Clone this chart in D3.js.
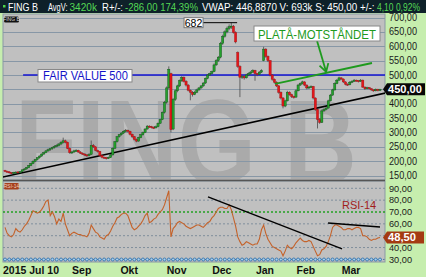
<!DOCTYPE html>
<html><head><meta charset="utf-8">
<script src="https://cdn.jsdelivr.net/npm/d3@7"></script>
<style>
html,body{margin:0;padding:0;background:#c6eeae;overflow:hidden;}
svg{display:block;font-family:"Liberation Sans",Arial,sans-serif;}
</style></head><body>
<svg id="c" width="426" height="277"></svg>
<script>
// ---- DATA ----
const ohlc = [
[168,170,162,165],[165,167,160,163],[163,165,157,160],[160,162,155,158],[158,163,156,161],
[160,165,158,162],[163,164,157,160],[160,166,159,164],[164,172,163,170],[170,176,168,173],
[173,180,171,178],[178,187,176,185],[185,194,183,192],[192,203,190,200],[200,208,197,206],
[206,214,203,212],[212,220,209,218],[218,227,215,225],[225,233,222,230],[230,239,228,236],
[236,244,233,240],[240,247,236,244],[244,251,240,248],[248,256,244,252],[252,259,248,255],
[255,263,251,260],[260,270,256,266],[266,282,262,271],[271,275,262,266],[266,268,242,245],
[245,248,226,230],[230,236,226,232],[232,240,229,236],[236,242,232,238],[238,240,229,232],
[232,235,225,228],[228,231,222,225],[225,228,218,222],[222,225,215,219],[219,228,217,224],
[224,272,222,255],[255,260,246,250],[250,252,235,238],[238,240,230,234],[234,236,217,220],
[220,222,210,214],[214,216,208,212],[212,215,206,210],[210,216,208,213],[213,225,211,222],
[222,248,220,245],[245,270,243,268],[268,288,265,285],[285,295,282,292],[292,301,289,298],
[298,307,295,304],[304,312,300,308],[308,310,300,304],[304,306,290,294],[294,296,281,285],
[285,288,272,276],[276,279,266,270],[270,285,268,282],[282,295,280,292],[292,303,289,300],
[300,315,298,312],[312,326,310,322],[322,325,316,320],[320,323,314,318],[318,321,312,316],
[316,324,314,320],[320,335,318,332],[332,348,330,345],[345,373,343,370],[370,410,366,405],
[405,460,400,455],[455,530,450,520],[505,508,300,310],[312,420,308,415],[415,450,410,445],
[445,466,440,462],[462,484,458,480],[480,496,476,492],[492,495,474,478],[478,482,460,465],
[465,468,443,447],[447,450,412,440],[440,444,425,432],[432,445,430,440],[440,452,437,448],
[448,458,445,455],[455,465,452,462],[462,475,459,472],[472,491,469,488],[488,503,485,500],
[500,508,497,505],[505,515,502,512],[512,540,510,535],[535,555,532,550],[550,566,546,562],
[562,615,558,610],[610,640,605,635],[635,655,630,650],[650,668,645,662],[662,676,656,668],
[668,682,660,670],[670,674,644,648],[648,652,610,615],[578,582,525,530],[530,534,423,492],
[492,500,486,495],[495,498,484,490],[490,504,488,500],[500,509,496,505],[505,514,501,510],
[510,520,507,516],[516,518,480,505],[505,507,496,502],[502,514,500,510],[510,520,507,515],
[550,598,548,590],[590,593,560,565],[565,568,545,550],[550,552,495,500],[500,503,480,485],
[485,488,470,475],[475,478,458,462],[462,465,435,440],[440,443,415,420],[420,423,384,392],
[392,414,388,410],[410,445,408,440],[440,443,428,432],[432,435,420,425],[425,428,418,423],
[423,450,421,445],[445,469,443,465],[465,474,462,470],[470,480,467,476],[476,478,461,465],
[465,467,450,455],[455,462,452,458],[458,464,455,460],[460,462,415,420],[420,422,375,380],
[380,382,314,345],[345,350,330,335],[335,380,333,375],[375,384,372,380],[380,389,377,385],
[385,414,383,410],[410,434,408,430],[430,452,428,448],[448,474,446,470],[470,486,468,482],
[482,494,480,490],[490,492,482,486],[486,488,472,476],[476,478,464,468],[468,471,462,466],
[466,479,464,475],[475,482,472,478],[478,486,476,482],[482,484,476,480],[480,482,474,478],
[478,486,476,482],[482,484,455,458],[458,460,448,452],[452,459,450,456],[456,458,449,452],
[452,454,445,448],[448,450,442,445],[445,453,443,450],[450,452,443,446],[446,452,444,450]
];
const rsi14 = [
57,52,50,49,51,56,54,53,55,58,60,63,67,71,70,69,70,72,75,79,
80,67,70,66,60,64,62,69,60,55,50,52,53,52,51,51,50,50,49,52,
59,56,53,52,49,48,47,50,51,54,58,61,65,66,68,69,69,67,62,57,
55,56,58,60,63,67,69,61,62,64,65,68,70,72,76,82,88,49,56,58,
61,62,61,60,58,57,56,57,58,59,59,58,57,59,61,62,65,67,70,73,
74,74,73,73,76,72,65,58,49,45,42,43,45,44,43,42,43,43,47,55,
59,52,47,44,41,40,39,38,37,33,37,42,40,39,41,44,46,48,46,45,
45,46,45,41,37,33,34,38,39,41,45,50,57,59,59,58,57,55,55,56,
56,55,56,57,57,56,50,50,49,47,46,47,47,48,48.5
];
const priceTicks = [150,200,250,300,350,400,450,500,550,600,650,700];
const rsiTicks = [30,40,50,60,70,80,90];
const monthNames = ["2015 Jul 10","Sep","Okt","Nov","Dec","Jan","Feb","Mar"];
const monthStartIdx = [0,37,59,81,102,122,141,162];
const lastPrice = 450.00, lastRsi = 48.50, fairValue = 500, peakValue = 682;
const header = [
 ["FING B","w"],["AvgV:","w"],["3420k","g"],["R+/-:","w"],["-286,00  174,39%","g"],
 ["VWAP: 446,8870  V: 693k  S: 450,00  +/-:","w"],["4,10  0,92%","g"]
];
// ---- LAYOUT ----
const headerX = [[8,38],[48,67.5],[69.5,97],[102,123],[125,198],[202,374.5],[377,420]];
const L=3, R=385, PT=14, PB=180, RT=181, RB=262;
const svg = d3.select("#c");
const x = d3.scaleLinear().domain([0,174]).range([5,380]);
const y = d3.scaleLinear().domain([150,700]).range([175.6,17.5]);
const yr = d3.scaleLinear().domain([30,90]).range([259.4,188.3]);
const fmt = v => d3.format(".2f")(v).replace(".",",");
// squeeze a text horizontally so that it spans width w from x0 (narrow platform font look)
function fit(sel, x0f, ybf, wf){
 sel.each(function(d,i){
  const t=d3.select(this).attr("x",0).attr("y",0);
  const n=this.getComputedTextLength();
  const x0=typeof x0f==="function"?x0f(d,i):x0f, yb=typeof ybf==="function"?ybf(d,i):ybf, w=typeof wf==="function"?wf(d,i):wf;
  t.attr("transform",`translate(${x0},${yb}) scale(${(w/n).toFixed(4)},1)`);
 });
}

svg.append("rect").attr("width",426).attr("height",277).attr("fill","#c6eeae");
svg.append("rect").attr("width",426).attr("height",13).attr("fill","#0e2129");
svg.append("rect").attr("x",L).attr("y",PT).attr("width",R-L).attr("height",PB-PT).attr("fill","#c0c0c0").attr("stroke","#8a98a4");
svg.append("rect").attr("x",L).attr("y",RT).attr("width",R-L).attr("height",RB-RT).attr("fill","#c0c0c0").attr("stroke","#8a98a4");

// header
svg.append("rect").attr("x",3).attr("y",5).attr("width",2.5).attr("height",2.5).attr("fill","#4cd44c");
fit(svg.append("g").selectAll("text").data(header).join("text")
 .attr("font-size",10.5).attr("fill",d=>d[1]==="g"?"#55d855":"#ffffff").text(d=>d[0]),
 (d,i)=>headerX[i][0], 11, (d,i)=>headerX[i][1]-headerX[i][0]);

// clip
const defs = svg.append("defs");
defs.append("clipPath").attr("id","cp").append("rect").attr("x",L).attr("y",PT).attr("width",R-L).attr("height",PB-PT);
defs.append("clipPath").attr("id","cr").append("rect").attr("x",L).attr("y",RT).attr("width",R-L).attr("height",RB-RT);

const gp = svg.append("g").attr("clip-path","url(#cp)");
fit(gp.append("text").attr("font-size",120).attr("font-weight","bold").attr("fill","#aaaaaa").text("FING B"), 15, 184, 342);
gp.selectAll("line.g").data(priceTicks).join("line").attr("class","g")
 .attr("x1",L).attr("x2",R).attr("y1",d=>Math.round(y(d))+0.5).attr("y2",d=>Math.round(y(d))+0.5)
 .attr("stroke","#8797a6").attr("stroke-width",1);

// trend line (black)
const tl = [[-1,145],[176.5,437]];
gp.append("line").attr("x1",x(tl[0][0])).attr("y1",y(tl[0][1])).attr("x2",x(tl[1][0])).attr("y2",y(tl[1][1]))
 .attr("stroke","#000").attr("stroke-width",1.6);
// fair value line
gp.append("line").attr("x1",x(8.4)).attr("x2",R).attr("y1",y(fairValue)).attr("y2",y(fairValue)).attr("stroke","#1414d2").attr("stroke-width",1.4);

// candles
const cg = gp.append("g");
cg.selectAll("line.w").data(ohlc).join("line").attr("class","w")
 .attr("x1",(d,i)=>x(i)).attr("x2",(d,i)=>x(i)).attr("y1",d=>y(d[1])).attr("y2",d=>y(d[2]))
 .attr("stroke","#4a4a4a").attr("stroke-width",0.8);
cg.selectAll("rect").data(ohlc).join("rect")
 .attr("x",(d,i)=>x(i)-1.1).attr("width",2.2)
 .attr("y",d=>y(Math.max(d[0],d[3]))).attr("height",d=>Math.max(1,Math.abs(y(d[0])-y(d[3]))))
 .attr("fill",d=>d[3]>=d[0]?"#24a02c":"#e5161a")
 .attr("stroke",d=>d[3]>=d[0]?"#0e4f14":"#a00d10").attr("stroke-width",0.4);

// plateau line
const pl = [[125.3,468.7],[170.3,541.7]];
gp.append("line").attr("x1",x(pl[0][0])).attr("y1",y(pl[0][1])).attr("x2",x(pl[1][0])).attr("y2",y(pl[1][1]))
 .attr("stroke","#1e9a1e").attr("stroke-width",1.8);
// arrow
const ar = [[144.8,618],[149,511]];
const ax1=x(ar[0][0]), ay1=y(ar[0][1]), ax2=x(ar[1][0]), ay2=y(ar[1][1]);
gp.append("line").attr("x1",ax1).attr("y1",ay1).attr("x2",ax2).attr("y2",ay2).attr("stroke","#1e9a1e").attr("stroke-width",1.8);
const ang = Math.atan2(ay2-ay1, ax2-ax1);
[ang+Math.PI*0.83, ang-Math.PI*0.83].forEach(a=>{
 gp.append("line").attr("x1",ax2).attr("y1",ay2).attr("x2",ax2+9*Math.cos(a)).attr("y2",ay2+9*Math.sin(a))
  .attr("stroke","#1e9a1e").attr("stroke-width",1.8);
});
// 682 line & box
gp.append("line").attr("x1",x(91.9)).attr("x2",x(107.7)).attr("y1",y(peakValue)).attr("y2",y(peakValue)).attr("stroke","#000").attr("stroke-width",1);
gp.append("rect").attr("x",x(91.9)-19).attr("y",y(peakValue)-5).attr("width",19).attr("height",10).attr("fill","#fff").attr("stroke","#777");
gp.append("text").attr("x",x(91.9)-9.5).attr("y",y(peakValue)+4).attr("text-anchor","middle").attr("font-size",10.5).attr("fill","#000").text(String(peakValue));
// FAIR VALUE box
gp.append("rect").attr("x",38).attr("y",y(fairValue)-5.5).attr("width",94).attr("height",12.5).attr("fill","#fff").attr("stroke","#888");
fit(gp.append("text").attr("font-size",12).attr("fill","#1414c8").text("FAIR VALUE "+fairValue), 43, y(fairValue)+5, 85);
// PLATÅ box
gp.append("rect").attr("x",254).attr("y",26).attr("width",126).attr("height",15).attr("fill","#fff").attr("stroke","#888");
fit(gp.append("text").attr("font-size",12.5).attr("fill","#1e9a1e").text("PLATÅ-MOTSTÅNDET"), 258, 38.5, 118);

// small tag
svg.append("rect").attr("x",4).attr("y",16.5).attr("width",15).attr("height",6).attr("rx",1.5).attr("fill","#111");
svg.append("text").attr("x",11.5).attr("y",21.3).attr("text-anchor","middle").attr("font-size",5).attr("fill","#ddd").text("FING B");

// separator
svg.append("line").attr("x1",L).attr("x2",R).attr("y1",180.5).attr("y2",180.5).attr("stroke","#555").attr("stroke-width",1.6);

// RSI panel
const gr = svg.append("g").attr("clip-path","url(#cr)");
gr.selectAll("line.g").data(rsiTicks).join("line").attr("class","g")
 .attr("x1",L).attr("x2",R).attr("y1",d=>yr(d)).attr("y2",d=>yr(d))
 .attr("stroke",d=>d===70?"#22a022":"#7f8e9c").attr("stroke-width",d=>d===70?1.4:1)
 .attr("stroke-dasharray","2,2");
gr.append("path").datum(rsi14).attr("fill","none").attr("stroke","#c4622a").attr("stroke-width",1.1)
 .attr("d",d3.line().x((d,i)=>x(i)).y(d=>yr(d)));
const rt1=[[94.2,82.7],[156.4,38.8]], rt2=[[149.9,60.7],[174,57.3]];
[rt1,rt2].forEach(t=>gr.append("line").attr("x1",x(t[0][0])).attr("y1",yr(t[0][1])).attr("x2",x(t[1][0])).attr("y2",yr(t[1][1]))
 .attr("stroke","#000").attr("stroke-width",1.4));
gr.append("text").attr("x",342).attr("y",208.5).attr("font-size",11).attr("fill","#a01c1c").text("RSI-14");
// bottom markers
const mk = gr.append("g");
mk.append("line").attr("x1",L).attr("x2",R).attr("y1",259.5).attr("y2",259.5).attr("stroke","#4a7fb0").attr("stroke-dasharray","1,1");
mk.selectAll("circle").data(d3.range(0,ohlc.length,2)).join("circle")
 .attr("cx",i=>x(i)).attr("cy",259.5).attr("r",1.5).attr("fill","#a8d0ee").attr("stroke","#2a6ca8").attr("stroke-width",0.8);
svg.append("rect").attr("x",4).attr("y",183).attr("width",15).attr("height",6.5).attr("rx",1.5).attr("fill","#a4401c");
svg.append("text").attr("x",11.5).attr("y",188.2).attr("text-anchor","middle").attr("font-size",5).attr("fill","#f0d0c0").text("RSI-14");

// right axis (tick labels hidden under the last-value markers are skipped)
fit(svg.append("g").selectAll("text").data(priceTicks.filter(d=>Math.abs(y(d)-y(lastPrice))>7)).join("text")
 .attr("font-size",10).attr("fill","#1a1a1a").text(fmt), 389, d=>y(d)+3.6, 28);
fit(svg.append("g").selectAll("text").data(rsiTicks.filter(d=>Math.abs(yr(d)-yr(lastRsi))>7)).join("text")
 .attr("font-size",9.2).attr("fill","#1a1a1a").text(fmt), 389, d=>yr(d)+3.3, 23);
function marker(yy,w,fill,txt,tw){
 const g=svg.append("g");
 g.append("path").attr("d",`M383,${yy} L387,${yy-6} L${387+w},${yy-6} L${387+w},${yy+6} L387,${yy+6} Z`).attr("fill",fill);
 fit(g.append("text").attr("font-size",10).attr("font-weight","bold").attr("fill","#fff").text(txt), 388, yy+3.6, tw);
}
marker(y(lastPrice),38,"#080808",fmt(lastPrice),34);
marker(yr(lastRsi),37,"#a43a12",fmt(lastRsi),28);

// month labels
svg.append("g").selectAll("text").data(monthNames).join("text")
 .attr("x",(d,i)=>i===0?3:x(monthStartIdx[i])-3).attr("y",274)
 .attr("text-anchor",(d,i)=>i===0?"start":"middle")
 .attr("font-size",10.5).attr("font-weight","bold").attr("fill","#111").text(d=>d);
</script>
</body></html>
